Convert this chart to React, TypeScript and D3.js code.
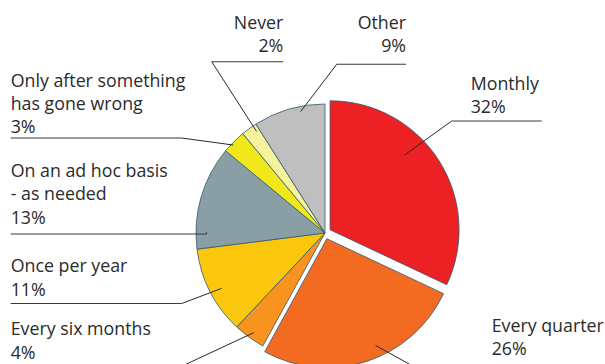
import React from "react";
import * as d3 from "d3";

const categories = [
  "Monthly",
  "Every quarter",
  "Every six months",
  "Once per year",
  "On an ad hoc basis\n- as needed",
  "Only after something\nhas gone wrong",
  "Never",
  "Other",
];
const values = [32, 26, 4, 11, 13, 3, 2, 9];
const colors = ["#ED2024", "#F36A21", "#F7931E", "#FBC70C", "#8A9EA5", "#F1E81C", "#F7F29C", "#BFBFBF"];
const explode = [6, 6, 0, 0, 0, 0, 0, 0];

// label layout: text position, underline, and where the leader touches the slice (fraction of angle, fraction of radius)
const layout = [
  { x: 470.7, anchor: "start", y0: 90, lh: 23.3, uy: 121, ux1: 451.7, ux2: 541.7, ex: 451.7, af: 0.39, rf: 0.82 },
  { x: 491.7, anchor: "start", y0: 332.3, lh: 22.7, uy: 370, ux1: 420, ux2: 605, ex: 420, af: 0.43, rf: 0.91 },
  { x: 10.7, anchor: "start", y0: 335, lh: 24.3, uy: 370, ux1: 10.7, ux2: 173.7, ex: 173.7, af: 0.47, rf: 0.95 },
  { x: 10.7, anchor: "start", y0: 271.7, lh: 24, uy: 303.5, ux1: 10.7, ux2: 181.7, ex: 181.7, af: 0.47, rf: 0.91 },
  { x: 10.7, anchor: "start", y0: 176.7, lh: 23.7, uy: 234, ux1: 10.7, ux2: 206.7, ex: 206.7, af: 0.16, rf: 0.92 },
  { x: 10.7, anchor: "start", y0: 86.5, lh: 23, uy: 138, ux1: 10.7, ux2: 181.7, ex: 181.7, af: 0.39, rf: 0.985 },
  { x: 283.3, anchor: "end", y0: 29.3, lh: 22.4, uy: 61.7, ux1: 211.7, ux2: 283.3, ex: 211.7, af: 0.78, rf: 0.95 },
  { x: 406, anchor: "end", y0: 29.3, lh: 22.4, uy: 64.3, ux1: 336.7, ux2: 406, ex: 336.7, af: 0.65, rf: 0.96 },
];

const W = 605;
const H = 364;
const CX = 325;
const CY = 233;
const R = 129;

export default function App() {
  const pie = d3.pie<number>().sort(null).value((d) => d)(values);
  const arc = d3.arc<d3.PieArcDatum<number>>().innerRadius(0).outerRadius(R);

  return (
    <svg
      width={W}
      height={H}
      style={{ position: "fixed", left: 0, top: 0, background: "#fff" }}
      fontFamily="'Open Sans', sans-serif"
    >
      <g transform={`translate(${CX},${CY})`}>
        {pie.map((p, i) => {
          const mid = (p.startAngle + p.endAngle) / 2;
          const dx = Math.sin(mid) * explode[i];
          const dy = -Math.cos(mid) * explode[i];
          return (
            <path
              key={i}
              d={arc(p) || ""}
              transform={`translate(${dx},${dy})`}
              fill={colors[i]}
              stroke="#2E5C70"
              strokeWidth={0.8}
              strokeLinejoin="round"
            />
          );
        })}
      </g>
      {pie.map((p, i) => {
        const L = layout[i];
        const mid = (p.startAngle + p.endAngle) / 2;
        const ox = CX + Math.sin(mid) * explode[i];
        const oy = CY - Math.cos(mid) * explode[i];
        const a = p.startAngle + L.af * (p.endAngle - p.startAngle);
        const px = ox + Math.sin(a) * R * L.rf;
        const py = oy - Math.cos(a) * R * L.rf;
        const lines = [...categories[i].split("\n"), `${values[i]}%`];
        return (
          <g key={"l" + i}>
            <polyline
              points={`${L.ux1},${L.uy} ${L.ux2},${L.uy}`}
              fill="none"
              stroke="#3a3a3a"
              strokeWidth={1.1}
            />
            <line x1={L.ex} y1={L.uy} x2={px} y2={py} stroke="#2a2a2a" strokeWidth={1} />
            <text fontSize={17.8} fill="#2b2b2b" textAnchor={L.anchor as any}>
              {lines.map((t, j) => (
                <tspan key={j} x={L.x} y={L.y0 + j * L.lh}>
                  {t}
                </tspan>
              ))}
            </text>
          </g>
        );
      })}
    </svg>
  );
}
